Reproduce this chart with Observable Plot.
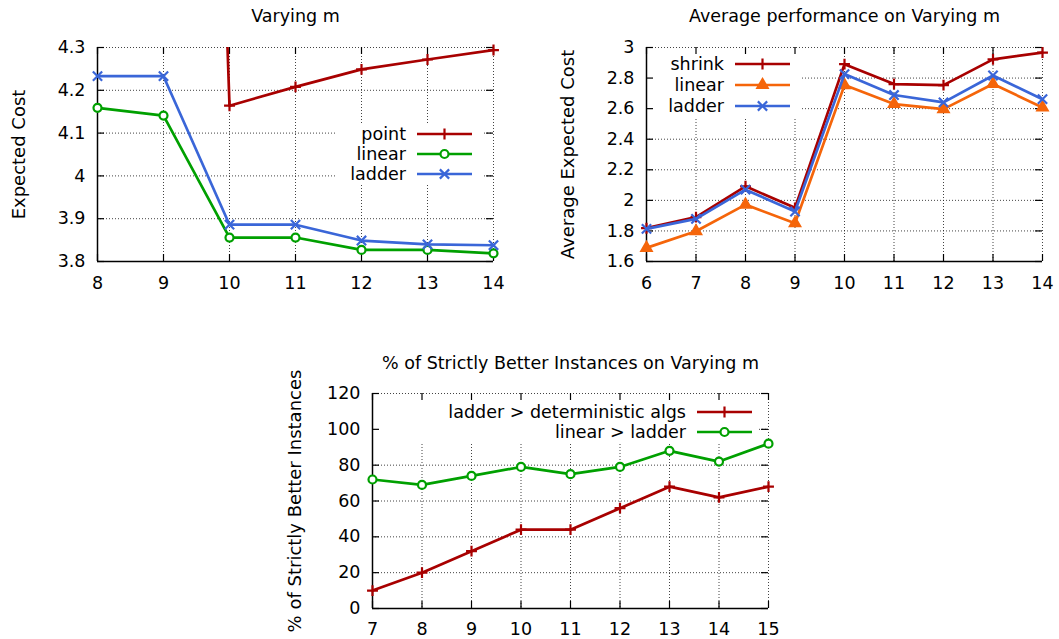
<!DOCTYPE html>
<html><head><meta charset="utf-8">
<script src="https://cdn.jsdelivr.net/npm/d3@7"></script>
<script src="https://cdn.jsdelivr.net/npm/@observablehq/plot@0.6"></script>
<style>
body{margin:0;background:#fff;}
#wrap{position:relative;width:1059px;height:639px;overflow:hidden;font-family:"DejaVu Sans",sans-serif;background:#fff;}
.panel{position:absolute;}
</style></head><body><div id="wrap"></div>
<script>
// ---------- data ----------
// Panel 1: Varying m
const p1Title = "Varying m";
const p1YLabel = "Expected Cost";
const p1M = [8, 9, 10, 11, 12, 13, 14];
const p1PointM = [9, 10, 11, 12, 13, 14];
const p1Point = [8.7, 4.164, 4.208, 4.249, 4.272, 4.294];
const p1Linear = [4.159, 4.141, 3.856, 3.856, 3.827, 3.827, 3.819];
const p1Ladder = [4.233, 4.233, 3.886, 3.886, 3.849, 3.840, 3.838];
const p1XTicks = [8, 9, 10, 11, 12, 13, 14];
const p1YTicks = [3.8, 3.9, 4.0, 4.1, 4.2, 4.3];
const p1Names = ["point", "linear", "ladder"];

// Panel 2: Average performance
const p2Title = "Average performance on Varying m";
const p2YLabel = "Average Expected Cost";
const p2M = [6, 7, 8, 9, 10, 11, 12, 13, 14];
const p2Shrink = [1.818, 1.890, 2.092, 1.951, 2.891, 2.761, 2.754, 2.922, 2.967];
const p2Linear = [1.689, 1.798, 1.972, 1.850, 2.754, 2.630, 2.597, 2.761, 2.608];
const p2Ladder = [1.813, 1.879, 2.070, 1.927, 2.826, 2.689, 2.641, 2.817, 2.662];
const p2XTicks = [6, 7, 8, 9, 10, 11, 12, 13, 14];
const p2YTicks = [1.6, 1.8, 2.0, 2.2, 2.4, 2.6, 2.8, 3.0];
const p2Names = ["shrink", "linear", "ladder"];

// Panel 3: % of strictly better instances
const p3Title = "% of Strictly Better Instances on Varying m";
const p3YLabel = "% of Strictly Better Instances";
const p3M = [7, 8, 9, 10, 11, 12, 13, 14, 15];
const p3LadderDet = [10, 20, 32, 44, 44, 56, 68, 62, 68];
const p3LinearLadder = [72, 69, 74, 79, 75, 79, 88, 82, 92];
const p3XTicks = [7, 8, 9, 10, 11, 12, 13, 14, 15];
const p3YTicks = [0, 20, 40, 60, 80, 100, 120];
const p3Names = ["ladder > deterministic algs", "linear > ladder"];

// ---------- styles ----------
const FS = 17.5;
const C = {red: "#a80000", green: "#00a000", blue: "#3a66d8", orange: "#f5650a"};
const SYM = {
  plus: {symbol: "plus", r: 3.6, fill: "none"},
  circle: {symbol: "circle", r: 4.0, fill: "white"},
  times: {symbol: "times", r: 4.3, fill: "none"},
  triangle: {symbol: "triangle", r: 3.8, fill: "fill"}
};
const d3Sym = {plus: d3.symbolPlus, circle: d3.symbolCircle, times: d3.symbolTimes, triangle: d3.symbolTriangle};
const fmt = d => String(+(+d).toFixed(1));

function zip(xs, ys) { return xs.map((x, i) => ({x, y: ys[i]})); }

function panel(cfg) {
  const {left, top, width, height, ml, mr, mt, mb, xDomain, xTicks, yDomain, yTicks,
         title, titleY, ylabel, ylabelX, xPad, series, legend} = cfg;
  const innerW = width - ml - mr, innerH = height - mt - mb;
  const TL = 7;
  const gridStyle = {stroke: "#222", strokeOpacity: 0.85, strokeDasharray: "1,2", strokeWidth: 1};
  const marks = [
    Plot.gridX(xTicks, {...gridStyle}),
    Plot.gridY(yTicks, {...gridStyle}),
    // opaque legend box
    () => {
      const [x1, y1, x2, y2] = legend.box;
      return d3.create("svg:rect")
        .attr("x", ml + x1).attr("y", mt + y1)
        .attr("width", x2 - x1).attr("height", y2 - y1)
        .attr("fill", "white").node();
    },
    Plot.ruleX([xDomain[0]], {stroke: "#000", strokeWidth: 1.5}),
    Plot.ruleY([yDomain[0]], {stroke: "#000", strokeWidth: 1.5}),
    Plot.tickX(xTicks, {x: d => d, insetTop: innerH - TL, stroke: "#000", strokeWidth: 1.2}),
    Plot.tickX(xTicks, {x: d => d, insetBottom: innerH - TL, stroke: "#000", strokeWidth: 1.2}),
    Plot.tickY(yTicks, {y: d => d, insetRight: innerW - TL, stroke: "#000", strokeWidth: 1.2}),
    Plot.tickY(yTicks, {y: d => d, insetLeft: innerW - TL, stroke: "#000", strokeWidth: 1.2}),
    Plot.axisX({ticks: xTicks, tickSize: 0, tickPadding: xPad, label: null, tickFormat: d => String(d), fontSize: FS, fill: "#000"}),
    Plot.axisY({ticks: yTicks, tickSize: 0, tickPadding: 12, label: null, tickFormat: fmt, fontSize: FS, fill: "#000"}),
    Plot.text([title], {frameAnchor: "top", dy: titleY - mt, textAnchor: "middle", lineAnchor: "middle", fontSize: FS, fill: "#000"}),
    Plot.text([ylabel], {frameAnchor: "left", rotate: -90, dx: ylabelX - ml, textAnchor: "middle", lineAnchor: "middle", fontSize: 18, fill: "#000"})
  ];
  for (const s of series) {
    const data = zip(s.x, s.y);
    const inside = data.filter(d => d.y >= yDomain[0] && d.y <= yDomain[1]);
    const sy = SYM[s.sym];
    marks.push(Plot.line(data, {x: "x", y: "y", stroke: s.color, strokeWidth: 2.7, clip: true}));
    marks.push(Plot.dot(inside, {x: "x", y: "y", symbol: sy.symbol, r: sy.r, stroke: s.color, strokeWidth: 2.2,
      fill: sy.fill === "fill" ? s.color : sy.fill}));
  }
  // legend entries
  marks.push(() => {
    const g = d3.create("svg:g").attr("font-size", FS).attr("font-family", "DejaVu Sans");
    series.forEach((s, i) => {
      const y = mt + legend.rows[i];
      g.append("text").attr("x", ml + legend.textEnd).attr("y", y).attr("dy", "0.35em")
        .attr("text-anchor", "end").attr("fill", "#000").text(s.name);
      g.append("line").attr("x1", ml + legend.lx1).attr("x2", ml + legend.lx2)
        .attr("y1", y).attr("y2", y).attr("stroke", s.color).attr("stroke-width", 2.7);
      const sy = SYM[s.sym];
      const mx = ml + (legend.lx1 + legend.lx2) / 2;
      g.append("path").attr("transform", `translate(${mx},${y})`)
        .attr("d", d3.symbol(d3Sym[s.sym], Math.PI * sy.r * sy.r)())
        .attr("stroke", s.color).attr("stroke-width", 2.2)
        .attr("fill", sy.fill === "fill" ? s.color : sy.fill);
    });
    return g.node();
  });
  const svg = Plot.plot({
    width, height, marginLeft: ml, marginRight: mr, marginTop: mt, marginBottom: mb,
    x: {domain: xDomain},
    y: {domain: yDomain},
    style: {fontFamily: "DejaVu Sans", fontSize: FS + "px", color: "#000", background: "transparent", overflow: "visible"},
    marks
  });
  const div = document.createElement("div");
  div.className = "panel";
  div.style.left = left + "px";
  div.style.top = top + "px";
  div.appendChild(svg);
  document.getElementById("wrap").appendChild(div);
}

panel({
  left: 0, top: 0, width: 530, height: 295, ml: 97, mr: 37, mt: 47, mb: 34,
  xDomain: [8, 14], xTicks: p1XTicks, yDomain: [3.8, 4.3], yTicks: p1YTicks,
  title: p1Title, titleY: 16, ylabel: p1YLabel, ylabelX: 19, xPad: 15,
  series: [
    {name: p1Names[0], x: p1PointM, y: p1Point, color: C.red, sym: "plus"},
    {name: p1Names[1], x: p1M, y: p1Linear, color: C.green, sym: "circle"},
    {name: p1Names[2], x: p1M, y: p1Ladder, color: C.blue, sym: "times"}
  ],
  legend: {textEnd: 309, lx1: 320, lx2: 375, rows: [87, 107, 127], box: [238, 76, 385, 138]}
});

panel({
  left: 540, top: 0, width: 519, height: 295, ml: 106, mr: 17, mt: 47, mb: 34,
  xDomain: [6, 14], xTicks: p2XTicks, yDomain: [1.6, 3.0], yTicks: p2YTicks,
  title: p2Title, titleY: 16, ylabel: p2YLabel, ylabelX: 28, xPad: 15,
  series: [
    {name: p2Names[0], x: p2M, y: p2Shrink, color: C.red, sym: "plus"},
    {name: p2Names[1], x: p2M, y: p2Linear, color: C.orange, sym: "triangle"},
    {name: p2Names[2], x: p2M, y: p2Ladder, color: C.blue, sym: "times"}
  ],
  legend: {textEnd: 78, lx1: 89, lx2: 144, rows: [17, 38, 59], box: [1, 2, 154, 70]}
});

panel({
  left: 280, top: 340, width: 520, height: 299, ml: 92, mr: 32, mt: 53, mb: 31,
  xDomain: [7, 15], xTicks: p3XTicks, yDomain: [0, 120], yTicks: p3YTicks,
  title: p3Title, titleY: 23, ylabel: p3YLabel, ylabelX: 15, xPad: 14,
  series: [
    {name: p3Names[0], x: p3M, y: p3LadderDet, color: C.red, sym: "plus"},
    {name: p3Names[1], x: p3M, y: p3LinearLadder, color: C.green, sym: "circle"}
  ],
  legend: {textEnd: 314, lx1: 325, lx2: 380, rows: [19, 39], box: [1, 2, 386, 50]}
});
</script></body></html>
